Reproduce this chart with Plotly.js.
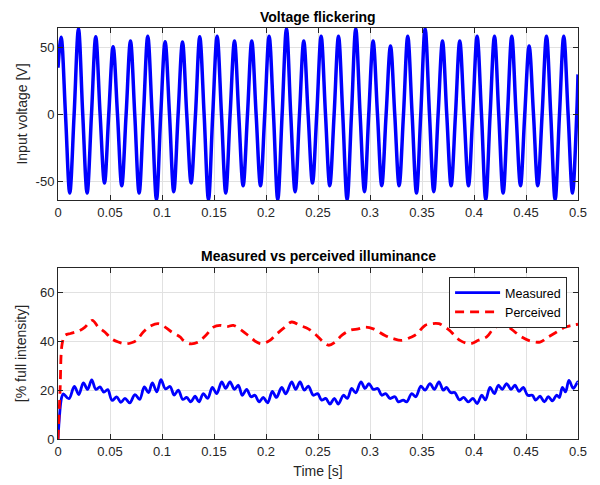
<!DOCTYPE html>
<html><head><meta charset="utf-8">
<script src="https://cdn.plot.ly/plotly-3.0.1.min.js"></script>
<style>html,body{margin:0;padding:0;background:#fff}</style>
</head><body><div id="chart" style="width:600px;height:485px"></div>
<script>
// Top: input voltage (peaks, zero crossings, troughs)
const voltTime = [0,
0.0030,0.0072,0.0113,0.0155, 0.0197,0.0238,0.0280,0.0322, 0.0363,0.0405,0.0447,0.0488,
0.0530,0.0572,0.0613,0.0655, 0.0697,0.0738,0.0780,0.0822, 0.0863,0.0905,0.0947,0.0988,
0.1030,0.1072,0.1113,0.1155, 0.1197,0.1238,0.1280,0.1322, 0.1363,0.1405,0.1447,0.1488,
0.1530,0.1572,0.1613,0.1655, 0.1697,0.1738,0.1780,0.1822, 0.1863,0.1905,0.1947,0.1988,
0.2030,0.2072,0.2113,0.2155, 0.2197,0.2238,0.2280,0.2322, 0.2363,0.2405,0.2447,0.2488,
0.2530,0.2572,0.2613,0.2655, 0.2697,0.2738,0.2780,0.2822, 0.2863,0.2905,0.2947,0.2988,
0.3030,0.3072,0.3113,0.3155, 0.3197,0.3238,0.3280,0.3322, 0.3363,0.3405,0.3447,0.3488,
0.3530,0.3572,0.3613,0.3655, 0.3697,0.3738,0.3780,0.3822, 0.3863,0.3905,0.3947,0.3988,
0.4030,0.4072,0.4113,0.4155, 0.4197,0.4238,0.4280,0.4322, 0.4363,0.4405,0.4447,0.4488,
0.4530,0.4572,0.4613,0.4655, 0.4697,0.4738,0.4780,0.4822, 0.4863,0.4905,0.4947,0.4988,
0.5];
const voltValue = [35,
57.8,0,-59,0, 64.3,0,-59,0, 58.2,0,-51.5,0,
50.8,0,-53.5,0, 55,0,-59,0, 58.7,0,-64,0,
54.5,0,-58,0, 54.3,0,-51.5,0, 58.2,0,-64,0,
58.7,0,-59,0, 55,0,-53.5,0, 55,0,-53.5,0,
58.7,0,-64,0, 64.3,0,-58,0, 55,0,-51.5,0,
58.7,0,-53.5,0, 58.7,0,-64,0, 64.3,0,-58,0,
55,0,-53.5,0, 51.3,0,-53.5,0, 58.7,0,-59,0,
64.3,0,-58,0, 55,0,-53.5,0, 55,0,-53.5,0,
58.7,0,-64,0, 58.7,0,-59,0, 58.7,0,-53.5,0,
51.3,0,-53.5,0, 58.7,0,-64,0, 58.7,0,-59,0,
30];

// Bottom: measured illuminance (ripple maxima / minima)
const measTime = [0,0.0035,0.0051,0.0105,0.0157,0.0200,0.0244,0.0284,0.0324,0.0364,
0.0404,0.0441,0.0478,0.0520,0.0564,0.0604,0.0644,0.0690,0.0740,0.0785,
0.0830,0.0870,0.0907,0.0950,0.0990,0.1033,0.1077,0.1117,0.1157,0.1200,
0.1237,0.1277,0.1317,0.1356,0.1397,0.1439,0.1484,0.1526,0.1574,0.1612,
0.1654,0.1696,0.1734,0.1772,0.1814,0.1856,0.1894,0.1933,0.1974,0.2016,
0.2061,0.2100,0.2151,0.2190,0.2247,0.2285,0.2327,0.2368,0.2407,0.2455,
0.2497,0.2535,0.2574,0.2615,0.2657,0.2696,0.2744,0.2782,0.2824,0.2862,
0.2913,0.2952,0.2990,0.3032,0.3074,0.3113,0.3151,0.3192,0.3240,0.3272,
0.3320,0.3353,0.3401,0.3439,0.3490,0.3529,0.3577,0.3619,0.3663,0.3705,
0.3735,0.3775,0.3815,0.3860,0.3900,0.3945,0.3990,0.4030,0.4074,0.4110,
0.4154,0.4196,0.4234,0.4272,0.4314,0.4356,0.4394,0.4433,0.4474,0.4516,
0.4561,0.4593,0.4635,0.4676,0.4715,0.4753,0.4795,0.4820,0.4850,0.4880,
0.4913,0.4955,0.4997,0.5];
const measValue = [0,17,18.5,16.5,21.5,18.2,23.0,20.3,24.2,20.3,
21.3,19.2,20.2,15.8,17.2,15.0,16.6,14.8,18.2,16.2,
21.3,19.0,23.0,19.3,24.3,20.5,21.5,18.0,20.0,16.2,
17.0,15.2,17.5,15.2,18.6,16.6,21.1,18.6,23.4,20.7,
23.4,20.3,22.0,17.9,20.3,17.3,17.9,15.2,17.0,14.8,
19.5,17.0,21.1,18.5,23.4,20.3,23.4,20.0,21.6,17.9,
18.6,15.9,16.6,14.3,16.6,14.3,17.9,16.6,20.7,18.9,
23.4,20.7,22.7,20.3,20.7,17.9,18.6,16.6,17.3,15.2,
15.9,15.2,18.6,17.3,21.6,20.0,22.7,20.3,23.4,20.0,
21.1,19.0,19.0,16.0,17.0,15.2,16.6,14.5,17.9,16.0,
21.1,18.6,22.0,20.3,22.7,20.3,22.0,19.5,21.1,17.9,
17.9,15.9,17.5,15.2,17.3,15.6,18.0,17.0,21.1,19.3,
24.0,20.7,23.4,23.2];

// Bottom: perceived illuminance
const percTime = [0,0.0020,0.0040,0.0067,0.0120,0.0170,0.0206,0.0260,0.0330,0.0388,
0.0450,0.0516,0.0580,0.0644,0.0700,0.0756,0.0820,0.0900,0.0965,0.1030,
0.1093,0.1173,0.1205,0.1269,0.1349,0.1420,0.1494,0.1558,0.1622,0.1686,
0.1766,0.1846,0.1910,0.1958,0.2038,0.2103,0.2176,0.2247,0.2327,0.2407,
0.2471,0.2600,0.2664,0.2728,0.2808,0.2888,0.2952,0.3032,0.3144,0.3224,
0.3305,0.3400,0.3449,0.3529,0.3593,0.3663,0.3721,0.3765,0.3800,0.3865,
0.3960,0.4042,0.4122,0.4186,0.4250,0.4330,0.4394,0.4458,0.4538,0.4635,
0.4715,0.4795,0.4875,0.4940,0.5];
const percValue = [0,20,39,42.4,43.2,43.8,44.3,45.8,48.6,45.8,
43.8,41.0,39.7,39.0,39.3,40.4,43.8,46.5,47.2,45.8,
43.8,41.8,40.4,39.0,39.7,42.4,45.8,46.5,46.0,46.5,
44.5,41.8,39.7,39.0,40.4,43.0,45.6,47.9,46.5,45.1,
43.0,38.4,39.7,42.4,44.5,45.1,45.8,45.1,42.4,41.1,
40.4,41.8,43.0,46.5,47.2,47.2,45.8,44.5,43.0,40.4,
39.0,40.4,41.8,45.1,46.5,45.8,43.8,41.8,40.2,39.7,
41.8,43.8,45.8,46.5,47.0];

const xTicks = [0,0.05,0.1,0.15,0.2,0.25,0.3,0.35,0.4,0.45,0.5];
const xTickLabels = ['0','0.05','0.1','0.15','0.2','0.25','0.3','0.35','0.4','0.45','0.5'];
const yTicksTop = [-50,0,50];
const yTickLabelsTop = ['-50','0','50'];
const yTicksBottom = [0,20,40,60];
const yTickLabelsBottom = ['0','20','40','60'];

const FONT = 'Liberation Sans, Arial, Helvetica, sans-serif';
const axisColor = '#262626';
function ax(extra){
  return Object.assign({
    showline:true, linecolor:axisColor, linewidth:1, mirror:'ticks',
    ticks:'inside', ticklen:5, tickcolor:axisColor, tickwidth:1,
    showgrid:true, gridcolor:'#e1e1e1', gridwidth:1, zeroline:false,
    tickfont:{family:FONT, size:13, color:axisColor}
  }, extra);
}

const data = [
  {x:voltTime, y:voltValue, xaxis:'x', yaxis:'y', type:'scatter', mode:'lines',
   line:{color:'#0000ff', width:3.5, shape:'spline', smoothing:1}, showlegend:false, hoverinfo:'skip'},
  {x:measTime, y:measValue, xaxis:'x2', yaxis:'y2', type:'scatter', mode:'lines', name:'Measured',
   line:{color:'#0000ff', width:2.8, shape:'spline', smoothing:1}},
  {x:percTime, y:percValue, xaxis:'x2', yaxis:'y2', type:'scatter', mode:'lines', name:'Perceived',
   line:{color:'#ff0000', width:2.8, dash:'9px,6px', shape:'spline', smoothing:1}}
];

const layout = {
  width:600, height:485,
  margin:{l:58, r:22, t:28, b:46},
  paper_bgcolor:'#ffffff', plot_bgcolor:'#ffffff',
  font:{family:FONT, color:axisColor},
  xaxis: ax({domain:[0,1], range:[0,0.5], anchor:'y', tickvals:xTicks, ticktext:xTickLabels}),
  yaxis: ax({domain:[0.5815,1], range:[-64.2,64.8], anchor:'x', tickvals:yTicksTop, ticktext:yTickLabelsTop,
    title:{text:'Input voltage [V]', font:{family:FONT, size:14, color:axisColor}, standoff:4}}),
  xaxis2: ax({domain:[0,1], range:[0,0.5], anchor:'y2', tickvals:xTicks, ticktext:xTickLabels,
    title:{text:'Time [s]', font:{family:FONT, size:14, color:axisColor}, standoff:8}}),
  yaxis2: ax({domain:[0,0.416], range:[0,70], anchor:'x2', tickvals:yTicksBottom, ticktext:yTickLabelsBottom,
    title:{text:'[% full intensity]', font:{family:FONT, size:14, color:axisColor}, standoff:10}}),
  legend:{x:0.979, y:0.394, xanchor:'right', yanchor:'top', bgcolor:'#ffffff',
    bordercolor:axisColor, borderwidth:1, font:{family:FONT, size:12.5, color:'#000'},
    itemwidth:45, tracegroupgap:0},
  annotations:[
    {text:'<b>Voltage flickering</b>', xref:'paper', yref:'paper', x:0.5, y:1.026, xanchor:'center', yanchor:'middle',
     showarrow:false, font:{family:FONT, size:14, color:'#000'}},
    {text:'<b>Measured vs perceived illuminance</b>', xref:'paper', yref:'paper', x:0.5, y:0.445, xanchor:'center', yanchor:'middle',
     showarrow:false, font:{family:FONT, size:14, color:'#000'}}
  ]
};

Plotly.newPlot('chart', data, layout, {displayModeBar:false, staticPlot:true});
</script>
</body></html>
